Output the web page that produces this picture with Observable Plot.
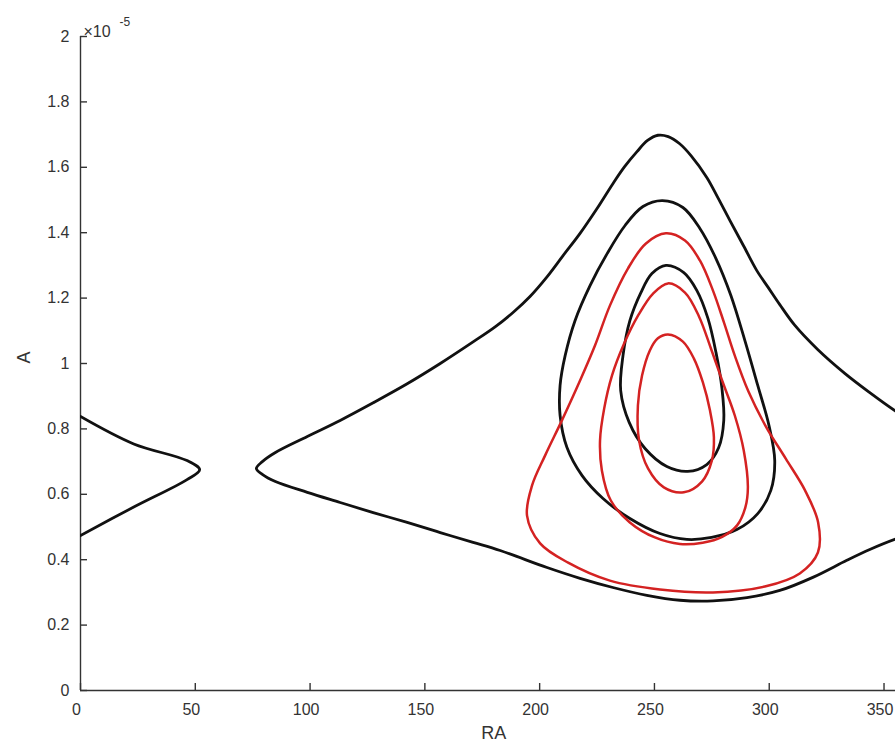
<!DOCTYPE html>
<html><head><meta charset="utf-8">
<script src="https://cdn.jsdelivr.net/npm/d3@7"></script>
<script src="https://cdn.jsdelivr.net/npm/@observablehq/plot@0.6"></script>
<style>html,body{margin:0;padding:0;background:#fff;overflow:hidden}</style>
</head><body><div id="chart"></div>
<script>
// Axis ticks (A in units of 1e-5)
const xTicks = [0, 50, 100, 150, 200, 250, 300, 350];
const yTicks = [0, 0.2, 0.4, 0.6, 0.8, 1, 1.2, 1.4, 1.6, 1.8, 2];
const xLabel = ["RA"];
const yLabel = ["A"];
const scaleText = ["×10"];
const scaleExp = ["-5"];

// Contours: [RA, A(×1e-5)]
const outerBlack = [
  [360,0.832],[354.7,0.856],[343.8,0.911],[332.9,0.970],[321.1,1.043],[311.0,1.118],
  [304.6,1.180],[299.6,1.232],[294.6,1.284],[288.8,1.360],[282.9,1.437],[277.8,1.505],
  [272.8,1.569],[266.0,1.635],[261.0,1.672],[256.0,1.694],[251.5,1.698],[247.0,1.682],
  [242.4,1.648],[237.0,1.602],[231.9,1.550],[225.0,1.474],[217.6,1.398],[210.2,1.330],
  [203.2,1.265],[195.8,1.205],[188.4,1.156],[180.6,1.112],[171.0,1.066],[156.7,1.000],
  [142.3,0.938],[127.5,0.880],[113.1,0.826],[98.8,0.777],[84.9,0.728],[79.2,0.700],
  [76.6,0.679],[79.2,0.661],[84.9,0.639],[98.8,0.606],[113.1,0.575],[127.5,0.544],
  [142.3,0.514],[156.7,0.483],[171.0,0.453],[182.8,0.428],[203.2,0.376],[217.6,0.343],
  [231.9,0.315],[246.7,0.291],[261.1,0.276],[275.5,0.274],[290.3,0.284],[304.6,0.306],
  [319.0,0.346],[333.8,0.398],[343.8,0.431],[354.7,0.462],[360,0.474]
];
const wrapBlack = [
  [0,0.838],[23.2,0.754],[46.4,0.703],[51.9,0.675],[46.4,0.645],[23.2,0.561],[0,0.474]
];
const black15 = [
  [253.5,1.498],[262.4,1.477],[269.8,1.413],[276.8,1.321],[283.3,1.208],[289.4,1.070],
  [295.0,0.933],[299.9,0.810],[302.4,0.703],[300.7,0.612],[295.0,0.541],[285.9,0.492],
  [274.9,0.468],[264.1,0.462],[252.4,0.480],[239.3,0.526],[227.6,0.587],[218.5,0.657],
  [211.9,0.743],[208.9,0.841],[208.9,0.933],[211.1,1.024],[215.4,1.131],[222.0,1.239],
  [229.4,1.336],[237.2,1.422],[245.0,1.480]
];
const black13 = [
  [255.0,1.300],[262.8,1.278],[268.5,1.223],[273.3,1.138],[276.8,1.034],[279.4,0.924],
  [280.2,0.826],[278.0,0.743],[272.8,0.691],[264.5,0.670],[255.4,0.685],[245.9,0.740],
  [239.0,0.820],[235.3,0.917],[236.3,1.024],[239.3,1.131],[244.1,1.217],[248.9,1.275]
];
const red14 = [
  [255.0,1.398],[263.3,1.376],[269.8,1.315],[275.5,1.223],[280.3,1.125],[285.0,1.024],
  [290.9,0.915],[298.5,0.808],[307.2,0.709],[315.6,0.612],[321.3,0.514],[321.2,0.422],
  [313.3,0.358],[298.1,0.318],[275.5,0.300],[252.4,0.309],[230.6,0.336],[212.4,0.391],
  [200.2,0.450],[194.5,0.535],[196.7,0.627],[202.4,0.719],[209.7,0.826],[217.6,0.948],
  [224.1,1.055],[230.6,1.177],[238.5,1.291],[246.3,1.367]
];
const red125 = [
  [255.9,1.245],[263.3,1.217],[269.4,1.144],[274.6,1.046],[279.8,0.942],[285.0,0.841],
  [288.9,0.734],[290.7,0.621],[289.6,0.560],[286.0,0.505],[279.5,0.470],[271.0,0.452],
  [261.1,0.448],[250.2,0.468],[239.3,0.514],[231.0,0.581],[227.1,0.673],[226.3,0.765],
  [228.1,0.862],[231.5,0.963],[236.8,1.061],[242.9,1.147],[249.4,1.214]
];
const red108 = [
  [255.9,1.089],[262.4,1.067],[267.2,1.015],[271.1,0.942],[274.2,0.856],[275.9,0.774],
  [275.0,0.703],[270.7,0.639],[262.8,0.606],[254.1,0.621],[247.2,0.679],[243.3,0.765],
  [242.8,0.872],[244.6,0.963],[248.0,1.040],[251.5,1.077]
];

const BLACK = "#111111";
const RED = "#d42222";
const AXIS = "#333333";
const FONT = "'Liberation Sans', Arial, Helvetica, sans-serif";

// layout
const W = 895, H = 748, ML = 80, MR = 0, MT = 36, MB = 58;
const X_DOMAIN = [0, 355], Y_DOMAIN = [0, 2];
const TICK_PX = 7;
// inward tick length expressed in each scale's units
const tickLenX = (X_DOMAIN[1] - X_DOMAIN[0]) * TICK_PX / (W - ML - MR);
const tickLenY = (Y_DOMAIN[1] - Y_DOMAIN[0]) * TICK_PX / (H - MT - MB);

const lineOpts = (stroke, w, curve) => ({x: d => d[0], y: d => d[1], stroke, strokeWidth: w, curve, clip: true, strokeLinejoin: "round"});

const chart = Plot.plot({
  width: W,
  height: H,
  marginLeft: ML,
  marginRight: MR,
  marginTop: MT,
  marginBottom: MB,
  style: {background: "#fff", fontFamily: FONT, fontSize: "16px", color: AXIS},
  x: {domain: X_DOMAIN},
  y: {domain: Y_DOMAIN},
  marks: [
    Plot.ruleY([0], {stroke: AXIS, strokeWidth: 1.4}),
    Plot.ruleX([0], {stroke: AXIS, strokeWidth: 1.4}),
    Plot.ruleX(xTicks, {x: d => d, y1: Y_DOMAIN[0], y2: Y_DOMAIN[0] + tickLenY, stroke: AXIS, strokeWidth: 1.4}),
    Plot.ruleY(yTicks, {y: d => d, x1: X_DOMAIN[0], x2: X_DOMAIN[0] + tickLenX, stroke: AXIS, strokeWidth: 1.4}),
    Plot.axisX({ticks: xTicks, tickSize: 0, tickPadding: 13, dx: -4, tickFormat: d => String(d), label: null, fill: AXIS, fontSize: 16}),
    Plot.axisY({ticks: yTicks, tickSize: 0, tickPadding: 11, tickFormat: d => String(+d.toFixed(1)), label: null, fill: AXIS, fontSize: 16}),
    Plot.text(xLabel, {x: () => 180, frameAnchor: "bottom", dy: 48, text: d => d, fill: AXIS, fontSize: 18}),
    Plot.text(yLabel, {frameAnchor: "left", dx: -56, rotate: -90, text: d => d, fill: AXIS, fontSize: 18}),
    Plot.text(scaleText, {frameAnchor: "top-left", dx: 3, dy: -11, text: d => d, textAnchor: "start", fill: AXIS, fontSize: 16}),
    Plot.text(scaleExp, {frameAnchor: "top-left", dx: 39, dy: -19, text: d => d, textAnchor: "start", fill: AXIS, fontSize: 12}),
    Plot.line(outerBlack, lineOpts(BLACK, 2.8, "catmull-rom")),
    Plot.line(wrapBlack, lineOpts(BLACK, 2.8, "catmull-rom")),
    Plot.line(black15, lineOpts(BLACK, 2.8, "catmull-rom-closed")),
    Plot.line(black13, lineOpts(BLACK, 2.8, "catmull-rom-closed")),
    Plot.line(red14, lineOpts(RED, 2.5, "catmull-rom-closed")),
    Plot.line(red125, lineOpts(RED, 2.5, "catmull-rom-closed")),
    Plot.line(red108, lineOpts(RED, 2.5, "catmull-rom-closed"))
  ]
});
document.getElementById("chart").appendChild(chart);
</script>
</body></html>
